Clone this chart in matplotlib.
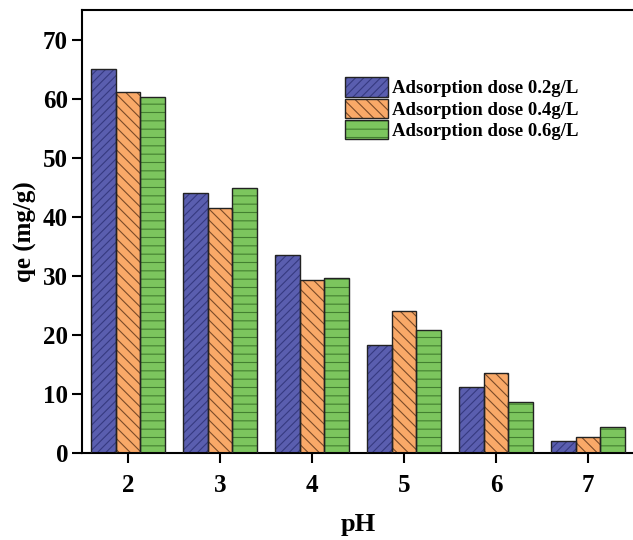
import matplotlib
matplotlib.use("Agg")
import matplotlib.pyplot as plt
import matplotlib.patches as mpatches
from matplotlib.legend_handler import HandlerPatch
import numpy as np

ph = [2, 3, 4, 5, 6, 7]
dose_02 = [65.0, 44.0, 33.5, 18.3, 11.2, 2.0]
dose_04 = [61.1, 41.4, 29.3, 24.1, 13.5, 2.7]
dose_06 = [60.3, 44.9, 29.7, 20.9, 8.6, 4.4]
labels = ["Adsorption dose 0.2g/L", "Adsorption dose 0.4g/L", "Adsorption dose 0.6g/L"]

plt.rcParams["font.family"] = ["Liberation Serif", "DejaVu Serif"]
plt.rcParams["font.weight"] = "bold"
plt.rcParams["hatch.linewidth"] = 0.8

fig = plt.figure(figsize=(6.33, 5.40), dpi=100)
ax = fig.add_axes([82 / 633, (540 - 453) / 540, 552 / 633, 443 / 540])

series = [dose_02, dose_04, dose_06]
faces = ["#5A5EAF", "#F9A968", "#7CC55E"]
hatch_cols = ["#363A80", "#7A4A28", "#437F30"]
hatches = ["////", "\\\\\\", "--"]
w = 0.267
x = np.array(ph, dtype=float)
handles = []
for i, (vals, fc, hc, h) in enumerate(zip(series, faces, hatch_cols, hatches)):
    pos = x + (i - 1) * w
    ax.bar(pos, vals, width=w, color=fc, edgecolor=hc, hatch=h, linewidth=0, zorder=2)
    ax.bar(pos, vals, width=w, facecolor="none", edgecolor="#222222", linewidth=1.0, zorder=3)
    handles.append(mpatches.Rectangle((0, 0), 1, 1, facecolor=fc, edgecolor=hc, hatch=h, linewidth=0))

ax.set_xlim(1.5, 7.5)
ax.set_ylim(0, 75)
ax.set_xticks(ph)
ax.set_yticks(range(0, 71, 10))
ax.tick_params(axis="both", direction="out", length=7, width=1.5, labelsize=18, top=False, right=False)
ax.tick_params(axis="x", pad=8)
ax.tick_params(axis="y", pad=3)
for s in ["left", "bottom", "top"]:
    ax.spines[s].set_linewidth(1.5)
ax.spines["right"].set_visible(False)

ax.set_xlabel("pH", fontsize=19, fontweight="bold", labelpad=12)
ax.set_ylabel("qe (mg/g)", fontsize=18, fontweight="bold", labelpad=4)


class OutlinedHandler(HandlerPatch):
    """Hatched swatch with a dark outline drawn on top."""
    def create_artists(self, legend, orig_handle, xdescent, ydescent, width, height, fontsize, trans):
        p = mpatches.Rectangle((-xdescent, -ydescent), width, height,
                               facecolor=orig_handle.get_facecolor(),
                               edgecolor=orig_handle.get_edgecolor(),
                               hatch=orig_handle.get_hatch(), linewidth=0, transform=trans)
        o = mpatches.Rectangle((-xdescent, -ydescent), width, height,
                               facecolor="none", edgecolor="#222222", linewidth=1.0, transform=trans)
        return [p, o]


leg = ax.legend(handles, labels, loc="upper left", bbox_to_anchor=(0.476, 0.848),
                frameon=False, fontsize=13.5, handlelength=2.3, handleheight=1.2,
                handletextpad=0.22, labelspacing=0.08, borderaxespad=0, borderpad=0,
                handler_map={mpatches.Rectangle: OutlinedHandler()})
for t in leg.get_texts():
    t.set_fontweight("bold")

fig.savefig("out.png", dpi=100)
